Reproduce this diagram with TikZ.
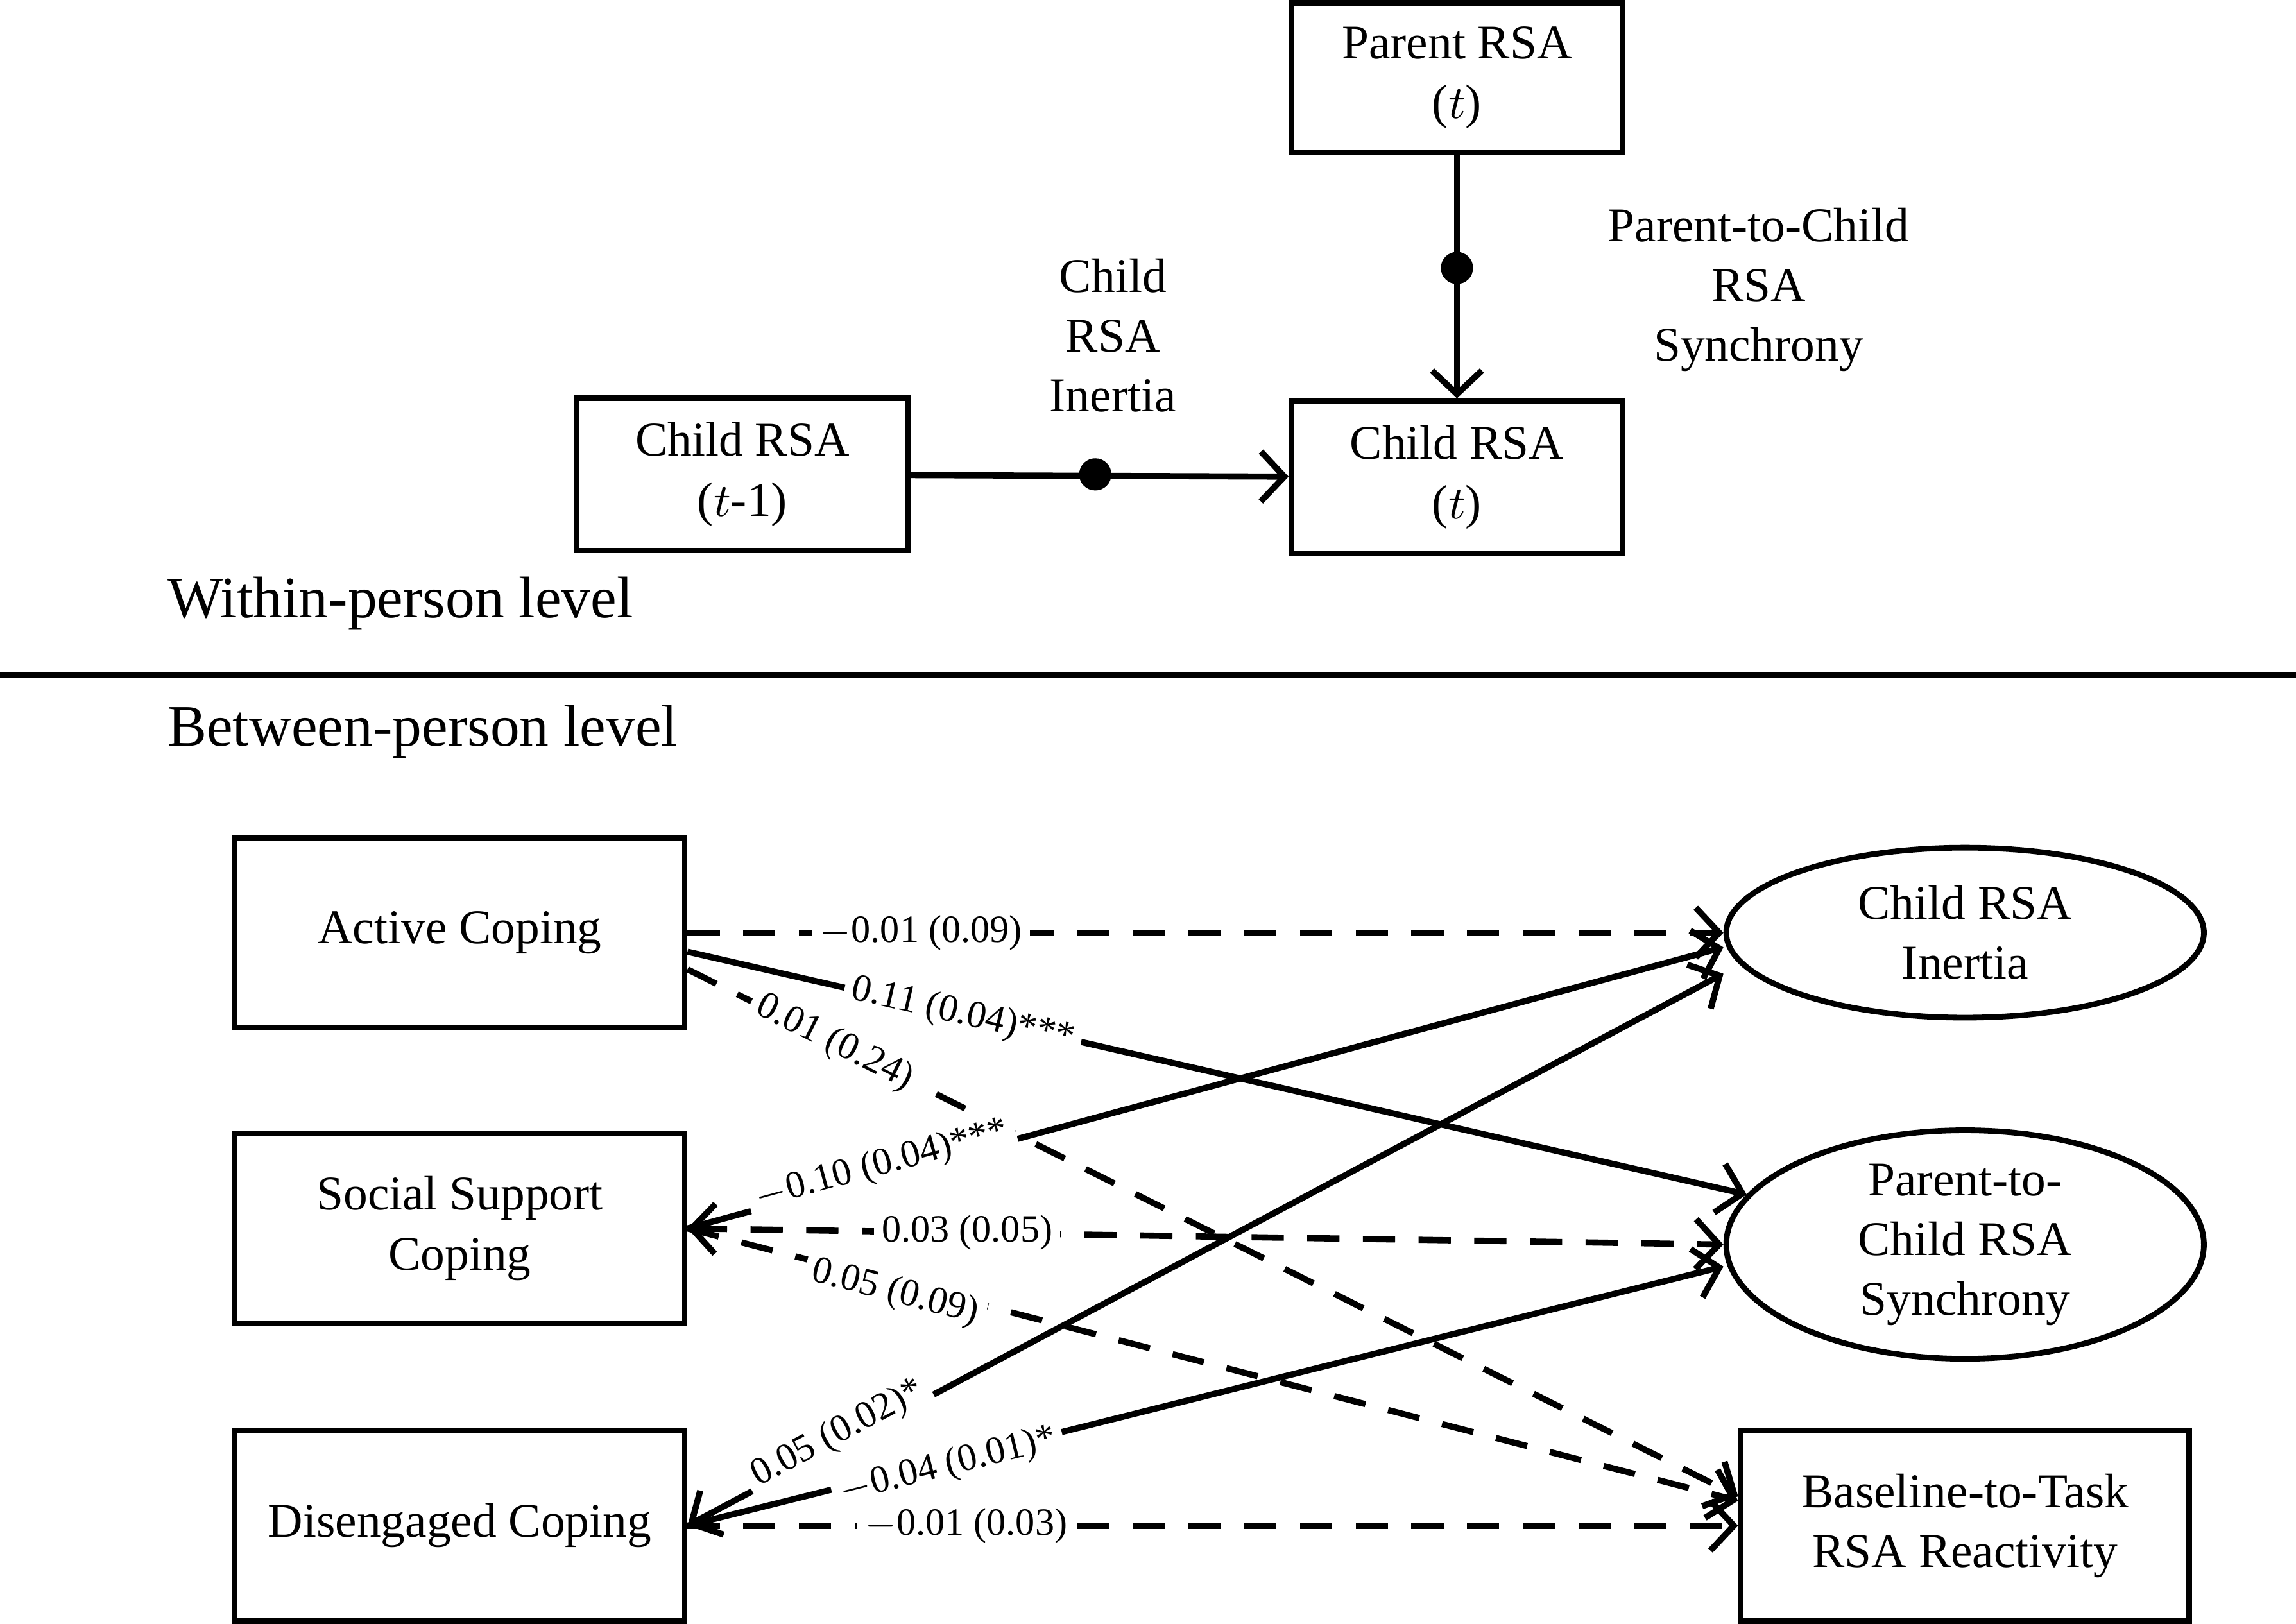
\documentclass[tikz,border=0pt]{standalone}
\usepackage{fontspec}
\setmainfont{Liberation Serif}
\usetikzlibrary{positioning}
\usetikzlibrary {arrows.meta}
\usetikzlibrary{shapes.geometric}
\tikzset{rsabox/.style={rectangle,draw=black,fill=white,line width=1.1pt,
inner sep=2pt,minimum height=1.02cm, minimum width=2.26cm,align=center,font=\fontsize{9.4}{11.6}\selectfont}}
\tikzset{copebox/.style={rectangle,draw=black,fill=white,line width=1.1pt,
inner sep=2pt,minimum height=1.30cm, minimum width=3.07cm,align=center,font=\fontsize{9.4}{11.6}\selectfont}}
\tikzset{outell/.style={ellipse,draw=black,fill=white,line width=1.1pt,
inner sep=0pt,minimum width=3.26cm,align=center,font=\fontsize{9.4}{11.6}\selectfont}}
\tikzset{pathlbl/.style={fill=white,inner sep=1.5pt,font=\fontsize{7.5}{9}\selectfont}}
\tikzset{cpath/.style={line width=1.2pt,-{Straight Barb[length=1.6mm,width=3.4mm,line width=1.2pt]}}}
\tikzset{dashpath/.style={cpath,dash pattern=on 2.2mm off 1.6mm}}
\tikzset{twoway/.style={{Straight Barb[length=1.6mm,width=3.4mm,line width=1.2pt]}-{Straight Barb[length=1.6mm,width=3.4mm,line width=1.2pt]}}}

\begin{document}
\begin{tikzpicture}[x=0.01cm,y=-0.01cm]
        \useasboundingbox (0,0) rectangle (1568,1109);

        \node[rsabox] (parent) at (995,53) {Parent RSA\\($t$)};
        \node[rsabox,minimum height=1.04cm] (child) at (995,326) {Child RSA\\($t$)};
        \node[rsabox,minimum height=1.04cm] (childlag) at (507,324) {Child RSA\\($t$-1)};
        \coordinate (dotA) at (748,324);
        \coordinate (dotB) at (995,183);
        \draw [cpath] (childlag) -- (child);
        \draw [cpath] (parent) -- (child);
        \fill (dotA) circle (11);
        \fill (dotB) circle (11);
        \node[align=center,font=\fontsize{9.4}{11.6}\selectfont] (inlbl) at (760,229) {Child\\RSA\\Inertia};
        \node[align=center,font=\fontsize{9.4}{11.6}\selectfont] (synlbl) at (1201,198) {Parent-to-Child\\RSA\\Synchrony};

        \node[anchor=west,font=\fontsize{11.4}{13}\selectfont] (within) at (102,412) {Within-person level};
        \coordinate (sepL) at (0,461);
        \coordinate (sepR) at (1568,461);
        \draw [line width=1.1pt] (sepL) -- (sepR);
        \node[anchor=west,font=\fontsize{11.4}{13}\selectfont] (between) at (102,500) {Between-person level};

        \node[copebox] (active) at (314,637) {Active Coping};
        \node[copebox] (social) at (314,839) {Social Support\\Coping};
        \node[copebox] (diseng) at (314,1042) {Disengaged Coping};
        \node[outell,minimum height=1.16cm] (inertia) at (1342,637) {Child RSA\\Inertia};
        \node[outell,minimum height=1.26cm] (sync) at (1342,850) {Parent-to-\\Child RSA\\Synchrony};
        \node[copebox,minimum width=3.06cm] (react) at (1342,1042) {Baseline-to-Task\\RSA Reactivity};

        \draw [dashpath] (active.east) -- node[pathlbl,pos=0.225] {$-$0.01 (0.09)} (inertia.west);
        \draw [cpath] ([yshift=-0.13cm]active.east) -- node[pathlbl,sloped,pos=0.26] {0.11 (0.04)***} (sync);
        \draw [dashpath] ([yshift=-0.25cm]active.east) -- node[pathlbl,sloped,pos=0.14] {0.01 (0.24)} ([yshift=0.2cm]react.west);

        \draw [cpath] (social.east) -- node[pathlbl,sloped,pos=0.19,yshift=2pt] {$-$0.10 (0.04)***} ([yshift=-0.1cm]inertia.west);
        \draw [dashpath,twoway] (social.east) -- node[pathlbl,pos=0.27] {0.03 (0.05)} (sync.west);
        \draw [dashpath] (social.east) -- node[pathlbl,sloped,pos=0.2,yshift=-2pt] {0.05 (0.09)} ([yshift=0.17cm]react.west);

        \draw [cpath,twoway] (diseng.east) -- node[pathlbl,sloped,pos=0.15,yshift=2pt] {0.05 (0.02)*} ([yshift=-0.28cm]inertia.west);
        \draw [cpath] (diseng.east) -- node[pathlbl,sloped,pos=0.25,yshift=-1pt] {$-$0.04 (0.01)*} ([yshift=-0.15cm]sync.west);
        \draw [dashpath] (diseng.east) -- node[pathlbl,pos=0.265] {$-$0.01 (0.03)} (react.west);

    \end{tikzpicture}
\end{document}
